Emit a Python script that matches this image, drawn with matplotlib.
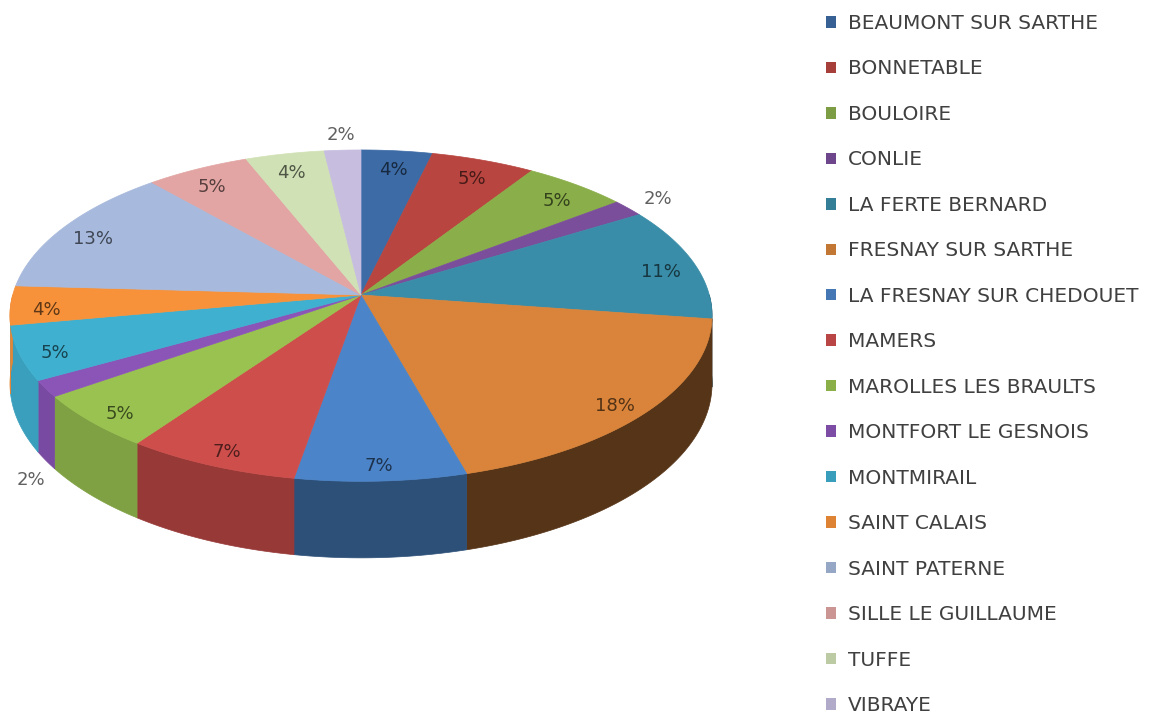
import numpy as np
import matplotlib
matplotlib.use('Agg')
import matplotlib.pyplot as plt
from matplotlib.patches import Polygon, Patch
from matplotlib.colors import to_rgb

cantons = ['BEAUMONT SUR SARTHE', 'BONNETABLE', 'BOULOIRE', 'CONLIE',
           'LA FERTE BERNARD', 'FRESNAY SUR SARTHE', 'LA FRESNAY SUR CHEDOUET',
           'MAMERS', 'MAROLLES LES BRAULTS', 'MONTFORT LE GESNOIS',
           'MONTMIRAIL', 'SAINT CALAIS', 'SAINT PATERNE',
           'SILLE LE GUILLAUME', 'TUFFE', 'VIBRAYE']
parts = [3.7, 5.4, 5.4, 1.7, 11.1, 18.4, 7.0, 7.1, 5.4, 1.6, 5.3, 3.8,
         12.7, 5.4, 4.1, 1.9]
colors = ['#3d6ba6', '#b8453f', '#8aae4a', '#7a4e9b', '#3a8da8', '#d9843a',
          '#4b84c8', '#ce4e4b', '#99c250', '#8b55b8', '#3fb0d0', '#f7923a',
          '#a7b9dc', '#e2a5a3', '#d1e1b6', '#c6bddf']

# 3d pie geometry (pixels)
cx, cy = 361, 295
rx, ry = 348.3, 163.1
tilt = 0.1246
depth = 67


def project(t, r=1.0):
    u, v = r * np.cos(t), r * np.sin(t)
    w = 1 + tilt * v
    return cx + rx * u / w, cy - ry * v / w, w


def shade(c, f):
    return tuple(np.clip(np.array(to_rgb(c)) * f, 0, 1))


fig = plt.figure(figsize=(11.57, 7.19), dpi=100)
ax = fig.add_axes([0, 0, 1, 1])
ax.set_xlim(0, 1157)
ax.set_ylim(719, 0)
ax.axis('off')

total = sum(parts)
cum = np.concatenate([[0], np.cumsum(parts)]) / total
t_start = np.radians(90 - 360 * cum[:-1])
t_end = np.radians(90 - 360 * cum[1:])

# side walls (front half only)
for i in range(len(parts)):
    hi = min(t_start[i], 0.0)
    lo = max(t_end[i], -np.pi)
    if hi <= lo:
        continue
    ts = np.linspace(hi, lo, 80)
    x, y, w = project(ts)
    yb = y + depth / w
    pts = np.column_stack([np.concatenate([x, x[::-1]]),
                           np.concatenate([y, yb[::-1]])])
    mid = (hi + lo) / 2
    f = 0.62 - 0.3 * np.cos(mid)
    c = shade(colors[i], f)
    ax.add_patch(Polygon(pts, closed=True, facecolor=c, edgecolor=c,
                         linewidth=0.5, zorder=1))

# top faces
for i in range(len(parts)):
    ts = np.linspace(t_start[i], t_end[i], 100)
    x, y, w = project(ts)
    pts = np.column_stack([np.concatenate([[cx], x]),
                           np.concatenate([[cy], y])])
    ax.add_patch(Polygon(pts, closed=True, facecolor=colors[i],
                         edgecolor=colors[i], linewidth=0.5, zorder=2))

# percentage labels
font = 'DejaVu Sans'
for i, p in enumerate(parts):
    mid = (t_start[i] + t_end[i]) / 2
    txt = '%d%%' % round(p / total * 100)
    if p >= 2.5:
        x, y, w = project(mid, 0.9)
        ax.text(x, y + 6, txt, ha='center', va='center', fontsize=13,
                family=font, color=shade(colors[i], 0.38), zorder=3)
    else:
        if np.sin(mid) < 0:
            x, y, w = project(mid, 1.0)
            x = x + 18 * np.cos(mid)
            y = y + depth / w + 20
        else:
            x, y, w = project(mid, 1.12)
        ax.text(x, y, txt, ha='center', va='center', fontsize=13,
                family=font, color='#606060', zorder=3)

handles = [Patch(facecolor=shade(c, 0.9), edgecolor='none') for c in colors]
ax.legend(handles, cantons, loc='upper left', bbox_to_anchor=(826, 14),
          bbox_transform=ax.transData, frameon=False, borderpad=0,
          borderaxespad=0, handlelength=0.5, handleheight=0.5,
          handletextpad=0.6, labelspacing=1.315,
          prop={'family': font, 'size': 14.5}, labelcolor='#404040')

fig.savefig('out.png', dpi=100)
